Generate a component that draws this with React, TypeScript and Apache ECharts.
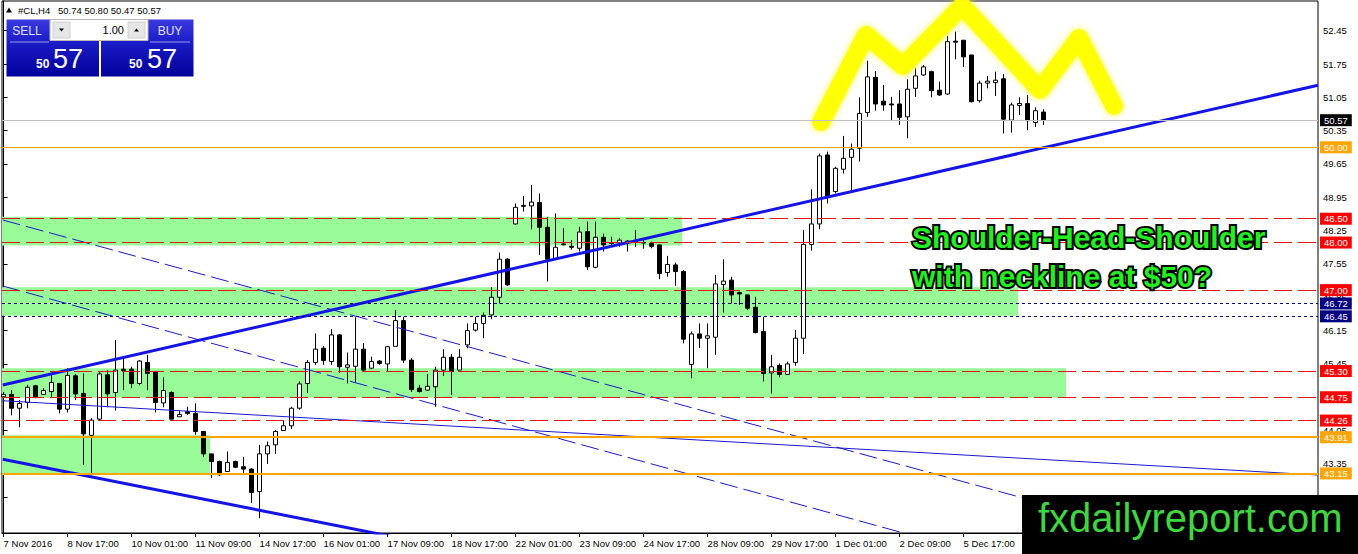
import React, { useEffect, useRef } from "react";
import * as echarts from "echarts";

// ---- data ----
const open = [44.76,44.81,44.52,44.64,44.99,44.81,44.87,45.04,44.50,45.20,44.83,43.95,44.29,45.22,44.85,45.34,45.34,45.04,45.48,45.29,44.63,44.85,44.34,44.45,44.41,44.03,43.56,43.40,43.19,43.40,43.29,43.24,42.77,43.56,43.75,44.05,44.15,44.52,45.04,45.48,45.78,45.50,46.06,45.38,45.40,45.76,45.36,45.51,45.45,45.82,46.36,45.53,44.94,44.90,44.97,45.32,45.59,45.32,45.85,46.16,46.30,46.48,46.85,47.65,48.39,48.78,48.77,48.84,48.32,47.65,47.97,47.92,47.88,48.23,47.48,48.11,47.99,47.99,48.01,48.03,48.00,47.98,47.95,47.37,47.53,47.39,45.44,46.08,45.99,46.01,47.12,47.21,46.95,46.90,46.64,46.13,45.26,45.42,45.23,45.48,45.99,47.96,48.39,49.84,49.07,49.54,49.79,49.98,50.73,51.47,50.97,50.91,50.91,50.64,51.24,51.52,51.59,51.20,51.12,52.23,52.25,51.94,50.98,51.35,51.36,51.44,50.57,50.88,50.92,50.52,50.74];
const high = [44.86,44.90,44.69,45.01,45.01,44.94,45.22,45.04,45.36,45.24,45.25,44.31,45.29,45.32,45.95,45.57,45.39,45.53,45.64,45.29,45.17,44.87,44.47,44.55,44.62,44.03,43.56,43.42,43.61,43.42,43.50,43.26,43.75,43.82,44.06,44.26,44.55,45.08,45.53,46.09,45.83,46.18,46.08,45.69,46.43,45.89,45.60,45.53,45.83,46.58,46.44,45.57,45.01,45.24,45.39,45.76,45.66,45.76,46.30,46.44,46.53,47.06,47.79,47.67,48.82,48.98,49.21,49.03,48.54,48.61,48.30,48.05,48.33,48.44,48.44,48.19,48.12,48.09,48.05,48.26,48.06,48.02,47.96,47.72,47.58,47.42,46.13,46.30,46.30,47.32,47.65,47.28,46.97,46.90,46.86,46.44,45.64,45.46,45.50,46.16,48.26,49.12,49.87,49.91,49.59,50.24,50.08,51.05,51.82,51.60,51.31,51.06,51.20,51.43,51.66,51.73,51.61,51.38,52.34,52.43,52.25,51.94,51.40,51.50,51.59,51.54,50.94,51.05,51.10,50.84,50.80];
const low = [44.70,44.37,44.12,44.52,44.73,44.80,44.76,44.41,44.43,44.69,43.33,43.15,44.27,44.54,44.47,44.90,44.94,45.00,44.90,44.43,44.54,44.29,44.34,44.38,43.96,43.50,43.05,43.10,43.19,43.26,43.12,42.53,42.21,43.35,43.56,44.05,44.08,44.49,44.84,45.43,45.43,45.43,45.26,45.04,45.06,45.29,45.34,45.43,45.29,45.82,45.47,44.86,44.85,44.89,44.55,45.20,44.80,45.32,45.78,46.13,45.99,46.39,46.72,47.09,48.37,48.65,48.28,47.74,47.18,47.65,47.95,47.85,47.81,47.42,47.46,47.81,47.92,47.91,47.81,47.91,47.87,47.88,47.23,47.28,47.09,45.88,45.15,45.78,45.36,45.64,46.53,46.72,46.69,46.58,46.09,45.08,44.83,45.17,45.22,45.41,45.66,47.83,48.28,48.82,49.03,49.45,49.10,49.70,50.64,50.77,50.77,50.57,50.47,50.19,51.06,51.50,51.05,51.08,51.10,51.85,51.69,50.94,50.94,51.24,51.08,50.29,50.31,50.68,50.36,50.43,50.47];
const close = [44.81,44.52,44.62,44.96,44.76,44.89,45.06,44.50,45.21,44.82,43.98,44.27,45.24,44.82,45.32,45.31,45.04,45.51,45.25,44.64,44.89,44.29,44.39,44.41,44.03,43.56,43.40,43.12,43.38,43.28,43.24,42.75,43.56,43.73,44.03,44.15,44.52,45.03,45.48,45.76,45.52,46.06,45.39,45.43,45.76,45.32,45.50,45.46,45.81,46.36,45.53,44.91,44.87,44.98,45.32,45.59,45.29,45.59,46.15,46.30,46.47,46.85,47.65,47.11,48.74,48.76,48.85,48.32,47.65,47.90,47.95,47.90,48.22,47.49,48.11,47.95,47.98,48.05,48.03,48.01,47.99,47.92,47.35,47.54,47.39,45.97,46.08,45.99,46.04,47.13,47.19,46.90,46.92,46.62,46.11,45.25,45.39,45.23,45.45,45.99,47.96,48.39,49.82,48.98,49.56,49.77,49.96,50.71,51.48,50.91,50.89,50.89,50.63,51.22,51.50,51.69,51.19,51.10,52.22,52.21,51.90,50.96,51.35,51.39,51.41,50.59,50.89,50.92,50.56,50.77,50.57];

const dateLabels = ["7 Nov 2016","8 Nov 17:00","10 Nov 01:00","11 Nov 09:00","14 Nov 17:00","16 Nov 01:00","17 Nov 09:00","18 Nov 17:00","22 Nov 01:00","23 Nov 09:00","24 Nov 17:00","28 Nov 09:00","29 Nov 17:00","1 Dec 01:00","2 Dec 09:00","5 Dec 17:00"];
const barsPerLabel = 8;
const priceTicks = [42.65,43.35,44.05,44.75,45.45,46.15,46.85,47.55,48.25,48.95,49.65,50.35,51.05,51.75,52.45];

const bidPrice = 50.57;
const orangeThinLevels = [50.0];
const orangeThickLevels = [43.91, 43.15];
const redLevels = [48.5, 48.0, 47.0, 45.3, 44.75, 44.26];
const navyLevels = [46.72, 46.45];

// zones: [fromBar, toBar, topPrice, bottomPrice]
const zones = [
  [-0.2, 84.8, 48.54, 47.94],
  [-0.2, 126.8, 47.06, 46.46],
  [-0.2, 132.8, 45.36, 44.74],
  [-0.2, 25.8, 43.95, 43.15],
];

// trend lines: [[bar, price], [bar, price]]
const channelTop = [[-0.11, 45.007], [164.3, 51.305]];
const channelBottom = [[-0.11, 43.446], [49.55, 41.79]];
const thinLine = [[-0.11, 44.677], [164.3, 43.116]];
const dashedA = [[-0.11, 48.473], [164.3, 40.946]];
const dashedB = [[-0.11, 47.087], [114.55, 41.803]];
// hand-drawn "M" (shoulder-head-shoulder) highlight
const patternPath = [[102.18, 50.532], [107.8, 52.36], [112.43, 51.708], [119.8, 52.969], [129.55, 51.204], [134.43, 52.297], [138.8, 50.868]];

const symbolTitle = "#CL,H4";
const ohlcTitle = "50.74 50.80 50.47 50.57";
const annotation = ["Shoulder-Head-Shoulder", "with neckline at $50?"];
const watermark = "fxdailyreport.com";

const FONT = 'Tahoma, "Liberation Sans", Arial, sans-serif';

export default function App() {
  const ref = useRef<HTMLDivElement>(null);

  useEffect(() => {
    if (!ref.current) return;
    const chart = echarts.init(ref.current, null, { renderer: "svg" });

    const lvl = (price: number, color: string, type: any, width: number, labelBg: string) => ({
      yAxis: price,
      lineStyle: { color, type, width },
      label: {
        show: true,
        position: "end",
        distance: 2,
        formatter: () => price.toFixed(2),
        backgroundColor: labelBg,
        color: "#ffffff",
        fontSize: 9.5,
        fontFamily: FONT,
        padding: [1, 4, 0, 4],
        lineHeight: 11,
      },
    });

    const markLines = [
      lvl(bidPrice, "#c0c0c0", "solid", 1, "#000000"),
      ...orangeThinLevels.map((p) => lvl(p, "#ffa500", "solid", 1, "#ffa500")),
      ...orangeThickLevels.map((p) => lvl(p, "#ffa500", "solid", 2, "#ffa500")),
      ...redLevels.map((p) => lvl(p, "#e01818", [18, 6], 1, "#ff0000")),
      ...navyLevels.map((p) => lvl(p, "#000080", [3, 3], 1, "#000080")),
    ];

    const tickBars = dateLabels.map((_, k) => k * barsPerLabel);

    const trend = (data: number[][], color: string, width: number, type: any) => ({
      type: "line",
      data,
      symbol: "none",
      silent: true,
      z: 3,
      lineStyle: { color, width, type },
    });

    const option: any = {
      animation: false,
      backgroundColor: "#ffffff",
      grid: {
        left: 2,
        right: 40,
        top: 1,
        bottom: 21,
        show: true,
        borderColor: "#000",
        borderWidth: 1,
        backgroundColor: "#fff",
        containLabel: false,
      },
      xAxis: {
        type: "value",
        min: -0.2,
        max: 164.3,
        axisLine: { show: true, lineStyle: { color: "#000", width: 1 } },
        axisTick: { show: true, customValues: tickBars, length: 4, lineStyle: { color: "#000" } },
        axisLabel: {
          show: true,
          customValues: tickBars,
          formatter: (v: number) => dateLabels[Math.round(v / barsPerLabel)] ?? "",
          align: "left",
          margin: 5,
          color: "#000",
          fontSize: 9.5,
          fontFamily: FONT,
        },
        splitLine: { show: false },
      },
      yAxis: {
        type: "value",
        position: "right",
        min: 41.898,
        max: 53.074,
        axisLine: { show: true, lineStyle: { color: "#000", width: 1 } },
        axisTick: { show: true, customValues: priceTicks, length: 4, lineStyle: { color: "#000" } },
        axisLabel: {
          show: true,
          customValues: priceTicks,
          formatter: (v: number) => v.toFixed(2),
          margin: 5,
          color: "#000",
          fontSize: 9.5,
          fontFamily: FONT,
        },
        splitLine: { show: false },
      },
      series: [
        {
          type: "candlestick",
          z: 2,
          barWidth: 4,
          silent: true,
          data: open.map((o, i) => [i, o, close[i], low[i], high[i]]),
          encode: { x: 0, y: [1, 2, 3, 4] },
          itemStyle: {
            color: "#ffffff",
            color0: "#000000",
            borderColor: "#000000",
            borderColor0: "#000000",
            borderWidth: 1,
          },
          markArea: {
            silent: true,
            itemStyle: { color: "#98fb98" },
            data: zones.map((z) => [
              { xAxis: z[0], yAxis: z[2] },
              { xAxis: z[1], yAxis: z[3] },
            ]),
          },
          markLine: {
            silent: true,
            symbol: ["none", "none"],
            data: markLines,
          },
        },
        trend(channelTop, "#1414e6", 3, "solid"),
        trend(channelBottom, "#1414e6", 3, "solid"),
        trend(thinLine, "#1a1ad0", 1, "solid"),
        trend(dashedA, "#1a1ad0", 1, [18, 6]),
        trend(dashedB, "#1a1ad0", 1, [18, 6]),
        {
          type: "line",
          data: patternPath,
          symbol: "none",
          silent: true,
          clip: false,
          z: 4,
          lineStyle: {
            color: "rgba(255,255,0,0.92)",
            width: 18,
            cap: "round",
            join: "round",
            shadowBlur: 6,
            shadowColor: "rgba(255,255,0,0.9)",
          },
        },
      ],
      graphic: [
        // title
        { type: "polygon", z: 50, shape: { points: [[6, 12.5], [12, 12.5], [9, 7.5]] }, style: { fill: "#000" } },
        { type: "text", z: 50, style: { x: 18, y: 10, text: symbolTitle, fill: "#000", font: `9.5px ${FONT}`, verticalAlign: "middle", textVerticalAlign: "middle" } },
        { type: "text", z: 50, style: { x: 58, y: 10, text: ohlcTitle, fill: "#000", font: `9.5px ${FONT}`, verticalAlign: "middle", textVerticalAlign: "middle" } },
        // trade panel
        {
          type: "rect", z: 50, shape: { x: 6.5, y: 19.5, width: 92.5, height: 57 },
          style: { fill: new echarts.graphic.LinearGradient(0, 0, 0, 1, [{ offset: 0, color: "#3a3ae0" }, { offset: 0.4, color: "#1c1cc8" }, { offset: 1, color: "#00009a" }]) },
        },
        {
          type: "rect", z: 50, shape: { x: 101, y: 19.5, width: 92.5, height: 57 },
          style: { fill: new echarts.graphic.LinearGradient(0, 0, 0, 1, [{ offset: 0, color: "#3a3ae0" }, { offset: 0.4, color: "#1c1cc8" }, { offset: 1, color: "#00009a" }]) },
        },
        { type: "rect", z: 51, shape: { x: 50, y: 19.5, width: 98, height: 21 }, style: { fill: "#fff", stroke: "#b8b8b8", lineWidth: 1 } },
        { type: "rect", z: 52, shape: { x: 53, y: 22, width: 17, height: 16 }, style: { fill: "#e6e6e6", stroke: "#d0d0d0" } },
        { type: "polygon", z: 53, shape: { points: [[59, 28.5], [64, 28.5], [61.5, 31.5]] }, style: { fill: "#000" } },
        { type: "rect", z: 52, shape: { x: 128, y: 22, width: 17, height: 16 }, style: { fill: "#e6e6e6", stroke: "#d0d0d0" } },
        { type: "polygon", z: 53, shape: { points: [[134, 31.5], [139, 31.5], [136.5, 28.5]] }, style: { fill: "#000" } },
        { type: "text", z: 53, style: { x: 124, y: 30, text: "1.00", fill: "#000", font: `11px ${FONT}`, align: "right", textAlign: "right", verticalAlign: "middle", textVerticalAlign: "middle" } },
        { type: "text", z: 53, style: { x: 27, y: 31, text: "SELL", fill: "#e0e0ff", font: `12px ${FONT}`, align: "center", textAlign: "center", verticalAlign: "middle", textVerticalAlign: "middle" } },
        { type: "text", z: 53, style: { x: 170, y: 31, text: "BUY", fill: "#e0e0ff", font: `12px ${FONT}`, align: "center", textAlign: "center", verticalAlign: "middle", textVerticalAlign: "middle" } },
        { type: "line", z: 53, shape: { x1: 10, y1: 42, x2: 49, y2: 42 }, style: { stroke: "#9a9af0", lineWidth: 1 } },
        { type: "line", z: 53, shape: { x1: 150, y1: 42, x2: 190, y2: 42 }, style: { stroke: "#9a9af0", lineWidth: 1 } },
        { type: "text", z: 53, style: { x: 36, y: 64, text: "50", fill: "#fff", font: `bold 12px ${FONT}`, verticalAlign: "middle", textVerticalAlign: "middle" } },
        { type: "text", z: 53, style: { x: 53, y: 59, text: "57", fill: "#fff", font: `27px ${FONT}`, verticalAlign: "middle", textVerticalAlign: "middle" } },
        { type: "text", z: 53, style: { x: 129, y: 64, text: "50", fill: "#fff", font: `bold 12px ${FONT}`, verticalAlign: "middle", textVerticalAlign: "middle" } },
        { type: "text", z: 53, style: { x: 147, y: 59, text: "57", fill: "#fff", font: `27px ${FONT}`, verticalAlign: "middle", textVerticalAlign: "middle" } },
        // annotation
        { type: "text", z: 60, style: { x: 912, y: 237.5, text: annotation[0], fill: "#22ee22", stroke: "#000", lineWidth: 4, font: `bold 30px "Liberation Sans", Arial, sans-serif`, verticalAlign: "middle", textVerticalAlign: "middle" } },
        { type: "text", z: 60, style: { x: 912, y: 276, text: annotation[1], fill: "#22ee22", stroke: "#000", lineWidth: 4, font: `bold 30px "Liberation Sans", Arial, sans-serif`, verticalAlign: "middle", textVerticalAlign: "middle" } },
        // watermark
        { type: "rect", z: 100, shape: { x: 1022, y: 495, width: 336, height: 59 }, style: { fill: "#000" } },
        { type: "text", z: 101, style: { x: 1038, y: 518, text: watermark, fill: "#3fd63f", font: `40px "Liberation Sans", Arial, sans-serif`, verticalAlign: "middle", textVerticalAlign: "middle" } },
      ],
    };

    chart.setOption(option);
    return () => chart.dispose();
  }, []);

  return (
    <div
      ref={ref}
      style={{ position: "fixed", left: 0, top: 0, width: 1358, height: 554, background: "#fff" }}
    />
  );
}
